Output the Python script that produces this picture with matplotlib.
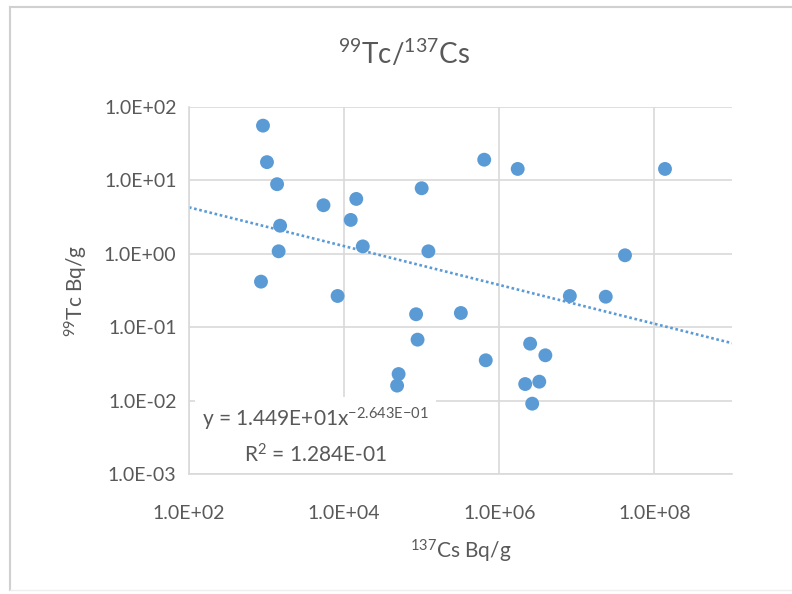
import numpy as np
import matplotlib
matplotlib.use('Agg')
import matplotlib.pyplot as plt
from matplotlib.lines import Line2D

plt.rcParams['font.family'] = ['Lato', 'DejaVu Sans']
plt.rcParams['mathtext.fontset'] = 'custom'
plt.rcParams['mathtext.rm'] = 'Lato'
plt.rcParams['mathtext.it'] = 'Lato'

# 137Cs activity (Bq/g) and 99Tc activity (Bq/g)
cs137 = [900, 1013, 1367, 5420, 14350, 12170, 1496, 1432, 17400, 1.22e5,
         1.0e5, 6.4e5, 1.73e6, 1.37e8, 4.18e7, 848, 8240, 8.13e6, 2.36e7,
         84700, 3.2e5, 88500, 6.7e5, 2.5e6, 3.93e6, 50400, 48200, 2.16e6,
         3.28e6, 2.66e6]
tc99 = [55.6, 17.7, 8.86, 4.58, 5.58, 2.89, 2.41, 1.08, 1.26, 1.08,
        7.8, 19.1, 14.3, 14.3, 0.953, 0.417, 0.266, 0.266, 0.26,
        0.150, 0.156, 0.0676, 0.0354, 0.0596, 0.0414, 0.023, 0.016, 0.0168,
        0.0181, 0.00908]

# power trendline as reported on the chart
coef_a = 1.449e1
coef_b = -2.643e-1

blue = '#5B9BD5'
grey_txt = '#595959'
grid_c = '#D9D9D9'

fig = plt.figure(figsize=(7.92, 5.94), dpi=100)
ax = fig.add_axes([0.2386, 0.202, 0.6856, 0.618])

ax.set_xscale('log')
ax.set_yscale('log')
ax.set_xlim(1e2, 1e9)
ax.set_ylim(1e-3, 1e2)

xt = [1e2, 1e4, 1e6, 1e8]
yt = [1e-3, 1e-2, 1e-1, 1e0, 1e1, 1e2]
ax.set_xticks(xt)
ax.set_yticks(yt)
ax.set_xticklabels(['%.1E' % v for v in xt])
ax.set_yticklabels(['%.1E' % v for v in yt])
ax.minorticks_off()
ax.tick_params(length=0, labelsize=14, labelcolor=grey_txt)
ax.tick_params(axis='y', pad=9)
ax.tick_params(axis='x', pad=22)

ax.grid(True, color=grid_c, lw=1.2, zorder=0)
for side in ['top', 'right']:
    ax.spines[side].set_visible(False)
for side in ['left', 'bottom']:
    ax.spines[side].set_color(grid_c)
    ax.spines[side].set_linewidth(1.2)
    ax.spines[side].set_zorder(5)

xs = np.logspace(2, 9, 200)
ax.plot(xs, coef_a * xs ** coef_b, color=blue, lw=1.9, linestyle=(0, (1, 1)), zorder=2)

ax.scatter(cs137, tc99, s=100, color=blue, edgecolors='none', zorder=3)

eq = r'y = 1.449E+01x$^{{-}2.643E{-}01}$' + '\n' + r'R$^2$ = 1.284E-01'
ax.text(0.233, 0.103, eq, transform=ax.transAxes, ha='center', va='center',
        fontsize=15, color=grey_txt, linespacing=1.5, zorder=4,
        bbox=dict(facecolor='white', edgecolor='none', pad=5))

fig.text(0.51, 0.91, r'$^{99}$Tc/$^{137}$Cs', ha='center', va='center',
         fontsize=20, color=grey_txt)
ax.set_xlabel(r'$^{137}$Cs Bq/g', fontsize=15, color=grey_txt, labelpad=12)
ax.set_ylabel(r'$^{99}$Tc Bq/g', fontsize=15, color=grey_txt, labelpad=10)

# outer chart border
fig.add_artist(Line2D([0.0126, 0.0126], [0.007, 0.988], transform=fig.transFigure,
                      color='#D0D0D0', lw=1.5))
fig.add_artist(Line2D([0.0126, 1.0], [0.988, 0.988], transform=fig.transFigure,
                      color='#D0D0D0', lw=1.5))
fig.add_artist(Line2D([0.0126, 1.0], [0.007, 0.007], transform=fig.transFigure,
                      color='#EEEEEE', lw=1.0))

fig.savefig('out.png', dpi=100)
